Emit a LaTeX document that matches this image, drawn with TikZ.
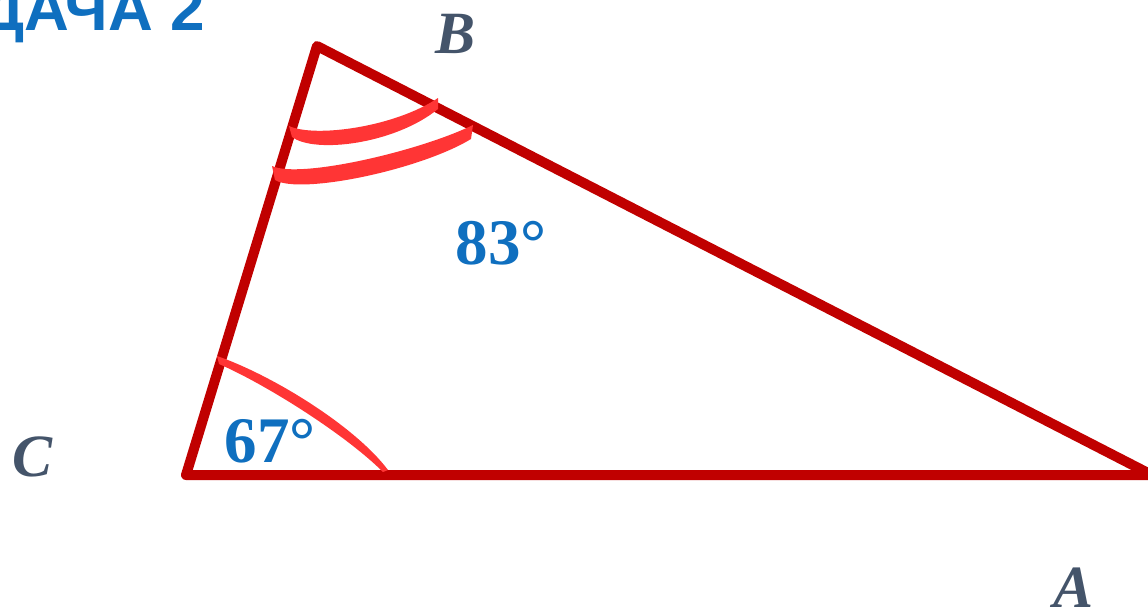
\documentclass[tikz,border=0pt]{standalone}
\usepackage{fontspec}
\setmainfont{Liberation Serif}
\newfontfamily\titlefont{Liberation Sans}
\definecolor{tri}{HTML}{C00000}
\definecolor{arcred}{HTML}{FF3535}
\definecolor{numblue}{HTML}{0F6FBF}
\definecolor{lbl}{HTML}{44546A}
\tikzset{
  side/.style={draw=tri, line width=10pt, line join=round, line cap=round},
  anglemark/.style={fill=arcred, draw=none},
  vertexlabel/.style={text=lbl, font=\fontsize{60}{60}\selectfont\bfseries\itshape, inner sep=0pt},
  anglelabel/.style={text=numblue, font=\fontsize{65}{65}\selectfont\bfseries, inner sep=0pt},
  titlestyle/.style={text=numblue, font=\fontsize{62}{62}\selectfont\titlefont\bfseries, inner sep=0pt}
}
\begin{document}
\begin{tikzpicture}[x=1pt,y=-1pt]
\useasboundingbox (0,0) rectangle (1148,610);
% vertices
\coordinate (C) at (186,475);
\coordinate (B) at (317,46);
\coordinate (A) at (1152,475);
% title (cut off at top-left)
\node[titlestyle, anchor=base east] (title) at (205,31) {ДАЧА 2};
% triangle
\draw[side] (C) -- (B) -- (A) -- cycle;
% angle marks at B
\fill[anglemark] (289,126) .. controls (315,138) and (395,127) .. (438,98)
  -- (438,109) .. controls (395,144) and (315,154) .. (292,137) -- cycle;
\fill[anglemark] (272,166) .. controls (300,179) and (420,151) .. (473,125)
  -- (471,139) .. controls (420,170) and (300,195) .. (275,180) -- cycle;
% angle mark at C
\fill[anglemark] (217,356) .. controls (272,375) and (355,426) .. (388,470)
  -- (383,472) .. controls (346,435) and (267,385) .. (219,364) -- cycle;
% angle values
\node[anglelabel] (b83) at (501,243) {83°};
\node[anglelabel] (c67) at (270,441) {67°};
% vertex labels
\node[vertexlabel] (lB) at (456,34) {B};
\node[vertexlabel] (lC) at (33,457) {C};
\node[vertexlabel] (lA) at (1073,588) {A};
\end{tikzpicture}
\end{document}
